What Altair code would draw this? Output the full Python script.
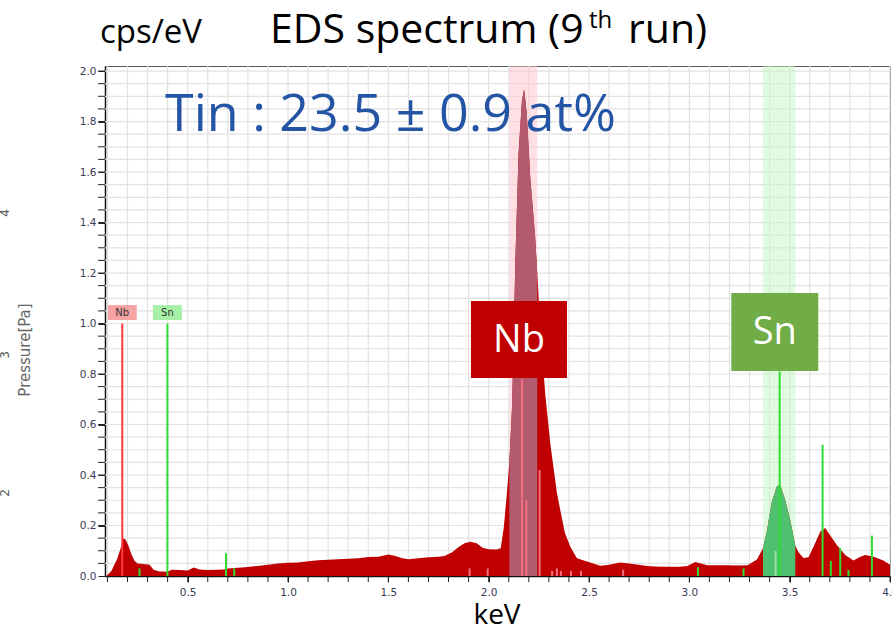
import altair as alt
import pandas as pd

# ---------------- data ----------------
kev = [0.095, 0.12, 0.15, 0.17, 0.18, 0.19, 0.205, 0.22, 0.235, 0.25, 0.28, 0.31, 0.33, 0.36, 0.40,
       0.42, 0.46, 0.50, 0.53, 0.56, 0.60, 0.65, 0.68, 0.70, 0.75, 0.80, 0.85, 0.90, 0.95, 1.00,
       1.05, 1.10, 1.15, 1.20, 1.25, 1.30, 1.35, 1.40, 1.45, 1.50, 1.53, 1.57, 1.60, 1.65, 1.70,
       1.75, 1.78, 1.82, 1.85, 1.88, 1.91, 1.94, 1.97, 2.00, 2.04, 2.06, 2.075, 2.09, 2.103, 2.116,
       2.125, 2.133, 2.149, 2.166, 2.177, 2.19, 2.207, 2.232, 2.242, 2.257, 2.282, 2.307, 2.34,
       2.357, 2.38, 2.407, 2.44, 2.49, 2.556, 2.60, 2.656, 2.72, 2.79, 2.85, 2.95, 2.99, 3.03,
       3.09, 3.19, 3.25, 3.29, 3.337, 3.367, 3.387, 3.41, 3.436, 3.453, 3.478, 3.503, 3.528, 3.544,
       3.569, 3.594, 3.619, 3.652, 3.677, 3.702, 3.735, 3.777, 3.818, 3.85, 3.876, 3.918, 3.967, 4.0]
cps = [0.0, 0.02, 0.07, 0.12, 0.15, 0.145, 0.12, 0.085, 0.06, 0.05, 0.048, 0.045, 0.025, 0.018, 0.017,
       0.025, 0.024, 0.022, 0.034, 0.026, 0.024, 0.025, 0.026, 0.03, 0.033, 0.036, 0.04, 0.045, 0.05, 0.052,
       0.053, 0.058, 0.062, 0.064, 0.066, 0.068, 0.07, 0.075, 0.076, 0.085, 0.08, 0.07, 0.066, 0.07, 0.074,
       0.076, 0.079, 0.095, 0.115, 0.13, 0.136, 0.13, 0.112, 0.106, 0.105, 0.11, 0.19, 0.32, 0.45, 0.66,
       0.95, 1.25, 1.675, 1.885, 1.927, 1.83, 1.58, 1.34, 1.2, 0.99, 0.72, 0.525, 0.33,
       0.26, 0.17, 0.116, 0.07, 0.057, 0.041, 0.045, 0.053, 0.048, 0.04, 0.037, 0.037, 0.04, 0.055,
       0.043, 0.043, 0.042, 0.043, 0.065, 0.11, 0.18, 0.29, 0.355, 0.36, 0.30, 0.22, 0.12, 0.094,
       0.071, 0.074, 0.116, 0.175, 0.19, 0.16, 0.123, 0.083, 0.061, 0.075, 0.083, 0.076, 0.061, 0.045]

# element windows (keV)
band_name = ["Nb", "Sn"]
band_start = [2.103, 3.367]
band_end = [2.242, 3.528]

# element line markers (keV, height, kind)
marker_kev = [0.174, 0.399, 0.26, 0.691, 0.732, 3.043, 3.27, 3.43, 3.45, 3.664, 3.705, 3.752, 3.793, 3.91,
              1.905, 1.995, 2.166, 2.188, 2.254, 2.316, 2.34, 2.36, 2.41, 2.46, 2.67]
marker_h = [1.0, 1.0, 0.03, 0.09, 0.03, 0.035, 0.03, 0.10, 0.81, 0.52, 0.06, 0.11, 0.024, 0.16,
            0.03, 0.03, 0.78, 0.30, 0.42, 0.02, 0.03, 0.02, 0.02, 0.02, 0.025]
marker_kind = ["nb", "sn", "sn", "sn", "sn", "sn", "sn", "snl", "sn", "sn", "sn", "sn", "sn", "sn",
               "nbl", "nbl", "nbl", "nbl", "nbl", "nbl", "nbl", "nbl", "nbl", "nbl", "nbl"]

x_minor = [round(0.1 * i, 1) for i in range(1, 41)]
x_major = [0.5, 1.0, 1.5, 2.0, 2.5, 3.0, 3.5, 4.0]
y_minor = [round(0.05 * i, 2) for i in range(1, 41)]
y_major = [0.0, 0.2, 0.4, 0.6, 0.8, 1.0, 1.2, 1.4, 1.6, 1.8, 2.0]

# cut-off fragments of a neighbouring axis at the far left edge
edge_labels = ["4", "3", "2"]

W, H = 785, 510
XDOM = [0.088, 4.0]
YDOM = [0, 2.02]

spec = pd.DataFrame({"keV": kev, "cps": cps})
bands = pd.DataFrame({"name": band_name, "start": band_start, "end": band_end})
marks = pd.DataFrame({"keV": marker_kev, "h": marker_h, "kind": marker_kind, "zero": 0.0})
xg = pd.DataFrame({"v": x_minor})
yg = pd.DataFrame({"v": y_minor})

xs = alt.Scale(domain=XDOM, nice=False, zero=False, padding=0)
ys = alt.Scale(domain=YDOM, nice=False, padding=0)

x_axis = alt.Axis(values=x_major, title=None, grid=False, format=".1f",
                  tickSize=6, tickColor="#222", domainColor="#111", domainWidth=1.5,
                  labelFont="DejaVu Sans", labelFontSize=10.5, labelColor="#3a3a55",
                  labelPadding=5, labelFlush=False, labelOverlap=False)
y_axis = alt.Axis(values=y_major, title=None, grid=False, format=".1f",
                  tickSize=7, tickColor="#222", domainColor="#111", domainWidth=1.5,
                  labelFont="DejaVu Sans", labelFontSize=10.5, labelColor="#3a3a55",
                  labelPadding=2, labelFlush=False, labelOverlap=False)

# grid + minor ticks
x_grid = alt.Chart(xg).mark_rule(color="#e2e2e2", strokeWidth=1.2).encode(
    x=alt.X("v:Q", scale=xs, axis=x_axis), y=alt.value(0), y2=alt.value(H))
y_grid = alt.Chart(yg).mark_rule(color="#e2e2e2", strokeWidth=1.2).encode(
    y=alt.Y("v:Q", scale=ys, axis=y_axis), x=alt.value(0), x2=alt.value(W))
x_mtick = alt.Chart(xg).mark_rule(color="#222", strokeWidth=1).encode(
    x=alt.X("v:Q", scale=xs), y=alt.value(H), y2=alt.value(H + 6))
y_mtick = alt.Chart(yg).mark_rule(color="#222", strokeWidth=1).encode(
    y=alt.Y("v:Q", scale=ys), x=alt.value(-7), x2=alt.value(0))

band_col = alt.Color("name:N", scale=alt.Scale(domain=band_name, range=["#ffc4cc", "#c4f7c4"]), legend=None)
band_layer = alt.Chart(bands).mark_rect(opacity=0.5).encode(
    x=alt.X("start:Q", scale=xs), x2="end:Q",
    y=alt.value(0), y2=alt.value(H), color=band_col)

area = alt.Chart(spec).mark_area(color="#c00000", interpolate="linear").encode(
    x=alt.X("keV:Q", scale=xs), y=alt.Y("cps:Q", scale=ys))

nb_area = alt.Chart(spec).transform_filter(
    (alt.datum.keV >= band_start[0]) & (alt.datum.keV <= band_end[0])
).mark_area(color="#b35a6e").encode(x=alt.X("keV:Q", scale=xs), y=alt.Y("cps:Q", scale=ys))

sn_area = alt.Chart(spec).transform_filter(
    (alt.datum.keV >= band_start[1]) & (alt.datum.keV <= band_end[1])
).mark_area(color="#4fc070").encode(x=alt.X("keV:Q", scale=xs), y=alt.Y("cps:Q", scale=ys))

mk_col = alt.Color("kind:N", scale=alt.Scale(domain=["nb", "sn", "snl", "nbl"],
                                             range=["#ff3c3c", "#2fdc2f", "#9ee29e", "#f07080"]),
                   legend=None)
rules = alt.Chart(marks).mark_rule(strokeWidth=2).encode(
    x=alt.X("keV:Q", scale=xs), y=alt.Y("zero:Q", scale=ys), y2="h:Q", color=mk_col)

# small element tags on the Nb / Sn lines
tag_df = pd.DataFrame({"keV": [0.174, 0.399], "lab": ["Nb", "Sn"], "kind": ["nb", "sn"],
                       "lo": [1.014, 1.014], "hi": [1.073, 1.073]})
tag_box = alt.Chart(tag_df).mark_bar(width=29).encode(
    x=alt.X("keV:Q", scale=xs), y=alt.Y("lo:Q", scale=ys), y2="hi:Q",
    color=alt.Color("kind:N", scale=alt.Scale(domain=["nb", "sn"], range=["#f5a3a3", "#a6f0a6"]), legend=None))
tag_txt = alt.Chart(tag_df).mark_text(font="DejaVu Sans", fontSize=10, color="#333",
                                      baseline="middle").encode(
    x=alt.X("keV:Q", scale=xs), y=alt.value(H - 1.043 / 2.02 * H), text="lab:N")

# big labels
nb_df = pd.DataFrame({"keV": [2.151], "lab": ["Nb"], "lo": [0.784], "hi": [1.089]})
sn_df = pd.DataFrame({"keV": [3.426], "lab": ["Sn"], "lo": [0.812], "hi": [1.121]})


def big_label(df, col, w):
    box = alt.Chart(df).mark_bar(width=w, color=col).encode(
        x=alt.X("keV:Q", scale=xs), y=alt.Y("lo:Q", scale=ys), y2="hi:Q")
    txt = alt.Chart(df).transform_calculate(mid="(datum.lo + datum.hi) / 2").mark_text(
        font="Open Sans", fontSize=38, color="white", baseline="middle", dy=1).encode(
        x=alt.X("keV:Q", scale=xs), y=alt.Y("mid:Q", scale=ys), text="lab:N")
    return [box, txt]


def label(txt, x, y, size, color="black", align="left", font="Open Sans", angle=0, baseline="alphabetic"):
    return alt.Chart(pd.DataFrame({"t": [txt]})).mark_text(
        text=txt, fontSize=size, color=color, align=align, font=font, angle=angle,
        baseline=baseline).encode(x=alt.value(x), y=alt.value(y))


texts = [
    label("cps/eV", 46, -23, 33, align="center"),
    label("EDS spectrum (9", 165, -23, 41),
    label("th", 484, -38, 24),
    label("run)", 523, -23, 41),
    label("Tin : 23.5 \u00b1 0.9 at%", 60, 65, 52, color="#2455a4"),
    label("keV", 392, 558, 28, align="center"),
    label("Pressure[Pa]", -80, 284, 15, color="#666", align="center", font="DejaVu Sans",
          angle=270, baseline="middle"),
]
for lab, yy in zip(edge_labels, [147, 289, 427]):
    texts.append(label(lab, -100, yy, 12, color="#555", align="center", font="DejaVu Sans",
                       angle=270, baseline="middle"))

chart = alt.layer(x_grid, y_grid, band_layer, area, nb_area, sn_area, rules, x_mtick, y_mtick,
                  tag_box, tag_txt,
                  *big_label(nb_df, "#c00000", 96), *big_label(sn_df, "#70ad47", 87),
                  *texts).resolve_scale(color="independent").properties(
    width=W, height=H,
    autosize=alt.AutoSizeParams(type="none"),
    padding={"left": 105, "top": 66, "right": 3, "bottom": 56},
    background="white",
).configure_view(stroke="#555", strokeWidth=1)

chart.save("out.html", embed_options={"renderer": "svg", "actions": False})
